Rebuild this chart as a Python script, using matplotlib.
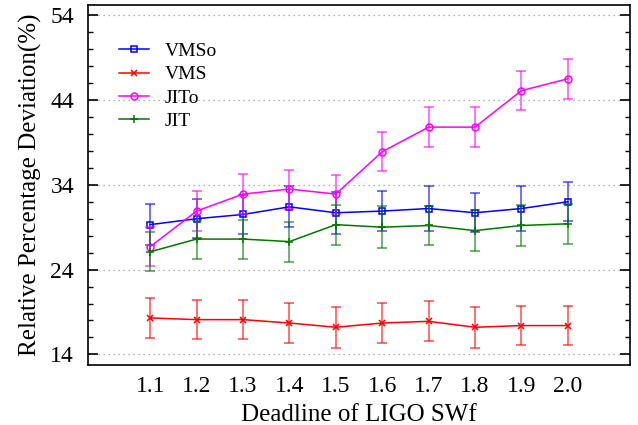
import numpy as np
import matplotlib
matplotlib.use("Agg")
import matplotlib.pyplot as plt
from matplotlib.ticker import MultipleLocator

plt.rcParams['font.family'] = ['Liberation Serif', 'DejaVu Serif']

# data
deadline = [1.1, 1.2, 1.3, 1.4, 1.5, 1.6, 1.7, 1.8, 1.9, 2.0]
tick_labels = ['1.1', '1.2', '1.3', '1.4', '1.5', '1.6', '1.7', '1.8', '1.9', '2.0']

vmso = [29.3, 30.0, 30.5, 31.4, 30.7, 30.9, 31.2, 30.7, 31.2, 32.0]
vmso_err = [2.4, 2.3, 2.3, 2.4, 2.5, 2.35, 2.6, 2.3, 2.6, 2.3]

vms = [18.3, 18.1, 18.1, 17.7, 17.2, 17.7, 17.9, 17.2, 17.4, 17.4]
vms_err = [2.35, 2.3, 2.3, 2.4, 2.4, 2.35, 2.35, 2.4, 2.35, 2.35]

jito = [26.7, 30.9, 32.9, 33.5, 32.9, 37.9, 40.8, 40.8, 45.1, 46.5]
jito_err = [2.3, 2.4, 2.35, 2.3, 2.3, 2.3, 2.35, 2.35, 2.3, 2.35]

jit = [26.1, 27.6, 27.6, 27.3, 29.3, 29.0, 29.2, 28.6, 29.2, 29.4]
jit_err = [2.3, 2.3, 2.3, 2.35, 2.35, 2.45, 2.3, 2.4, 2.4, 2.35]

fig = plt.figure(figsize=(6.38, 4.25), dpi=100)
ax = fig.add_axes([88/638, 1 - 365/425, (630-88)/638, (365-5)/425])

series = [
    (vmso, vmso_err, '#0000ff', 's', 'VMSo', 4.5),
    (vms, vms_err, '#ff0000', 'x', 'VMS', 5),
    (jito, jito_err, '#ff00ff', 'o', 'JITo', 5),
    (jit, jit_err, '#007700', '+', 'JIT', 6),
]

for y, e, c, m, lab, ms in series:
    ax.errorbar(deadline, y, yerr=e, fmt='none', ecolor=c,
                elinewidth=1.3, capsize=3.5, capthick=1.3, alpha=0.6)
    ax.plot(deadline, y, color=c, lw=1.1, marker=m, ms=ms, mfc='none',
            mec=c, mew=1.1, label=lab)

ax.set_xlim(0.966, 2.134)
ax.set_ylim(12.75, 55.2)
ax.set_xticks(deadline)
ax.set_xticklabels(tick_labels)
ax.set_yticks([14, 24, 34, 44, 54])
ax.yaxis.set_minor_locator(MultipleLocator(2))
ax.tick_params(axis='x', length=0, labelsize=17, pad=8)
ax.tick_params(axis='y', which='major', direction='in', length=7, width=1.2,
               left=True, right=True, labelsize=17, pad=10)
ax.tick_params(axis='y', which='minor', direction='in', length=3.5, width=1,
               left=True, right=True)
ax.grid(axis='y', which='major', linestyle=(0, (1, 3)), color='#999999', lw=0.9)
for s in ax.spines.values():
    s.set_linewidth(1.2)

ax.set_xlabel('Deadline of LIGO SWf', fontsize=18, labelpad=5)
ax.set_ylabel('Relative Percentage Deviation(%)', fontsize=18, labelpad=6)

ax.legend(loc='upper left', bbox_to_anchor=(0.025, 0.945), frameon=False,
          fontsize=14, handlelength=1.55, labelspacing=0.3, handletextpad=0.8)

fig.savefig('out.png', dpi=100)
